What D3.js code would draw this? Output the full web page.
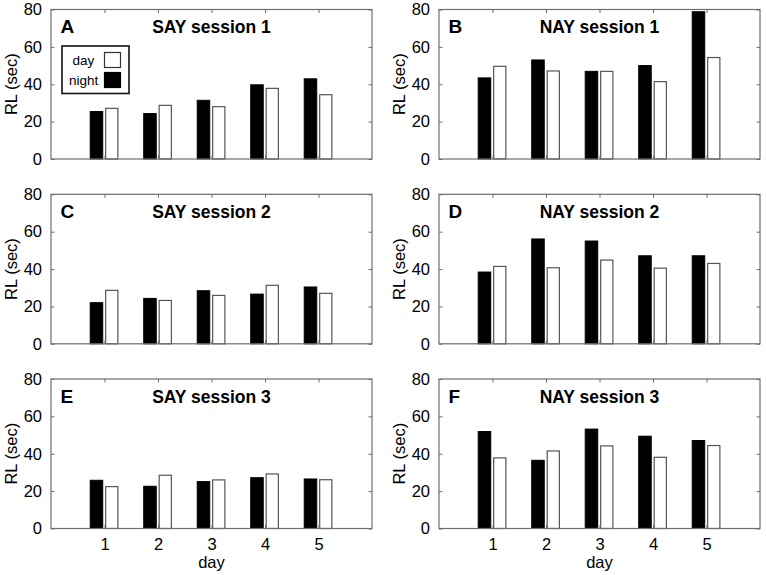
<!DOCTYPE html>
<html>
<head>
<meta charset="utf-8">
<script src="https://cdn.jsdelivr.net/npm/d3@7"></script>
<style>
  html, body { margin: 0; padding: 0; background: #fff; }
  svg { display: block; font-family: "Liberation Sans", Arial, sans-serif; }
</style>
</head>
<body>
<svg id="chart" width="766" height="575"></svg>
<script>
// ---- data ----
const days = [1, 2, 3, 4, 5];
const yTicks = [0, 20, 40, 60, 80];
const seriesNames = ["day", "night"];

const saySession1Night = [25.4, 24.3, 31.4, 39.7, 42.9];
const saySession1Day   = [27.1, 28.7, 28.0, 37.8, 34.4];
const naySession1Night = [43.4, 53.0, 46.9, 50.0, 78.8];
const naySession1Day   = [49.6, 47.1, 46.9, 41.4, 54.3];
const saySession2Night = [22.0, 24.3, 28.4, 26.6, 30.4];
const saySession2Day   = [28.6, 23.2, 25.9, 31.3, 27.0];
const naySession2Night = [38.4, 56.1, 55.0, 47.1, 47.1];
const naySession2Day   = [41.4, 40.7, 44.8, 40.5, 43.0];
const saySession3Night = [25.8, 22.6, 25.1, 27.2, 26.5];
const saySession3Day   = [22.4, 28.5, 26.0, 29.2, 26.1];
const naySession3Night = [51.9, 36.5, 53.2, 49.4, 47.1];
const naySession3Day   = [37.8, 41.5, 44.2, 38.1, 44.4];

const panelLetters = ["A", "B", "C", "D", "E", "F"];
const panelTitles = ["SAY session 1", "NAY session 1", "SAY session 2", "NAY session 2", "SAY session 3", "NAY session 3"];
const panelNight = [saySession1Night, naySession1Night, saySession2Night, naySession2Night, saySession3Night, naySession3Night];
const panelDay = [saySession1Day, naySession1Day, saySession2Day, naySession2Day, saySession3Day, naySession3Day];

// ---- layout ----
const colLeft = [51, 439];
const colWidth = 321;
const rowTop = [9.5, 194.3, 379];
const rowHeight = 149.5;
const axisColor = "#6e6e6e";

const svg = d3.select("#chart");

panelLetters.forEach((letter, i) => {
  const col = i % 2, row = Math.floor(i / 2);
  const x0 = colLeft[col], y0 = rowTop[row];
  const x = d3.scaleLinear().domain([0, 6]).range([x0, x0 + colWidth]);
  const y = d3.scaleLinear().domain([0, 80]).range([y0 + rowHeight, y0]);
  const g = svg.append("g");

  const night = panelNight[i], dayv = panelDay[i];

  // bars
  g.selectAll("rect.night").data(days).join("rect")
    .attr("class", "night")
    .attr("x", d => x(d - 0.267))
    .attr("width", d => x(d - 0.033) - x(d - 0.267))
    .attr("y", (d, j) => y(night[j]))
    .attr("height", (d, j) => y(0) - y(night[j]))
    .attr("fill", "#000").attr("stroke", "#000").attr("stroke-width", 1);

  g.selectAll("rect.day").data(days).join("rect")
    .attr("class", "day")
    .attr("x", d => x(d + 0.022))
    .attr("width", d => x(d + 0.25) - x(d + 0.022))
    .attr("y", (d, j) => y(dayv[j]))
    .attr("height", (d, j) => y(0) - y(dayv[j]))
    .attr("fill", "#fff").attr("stroke", "#555").attr("stroke-width", 1.2);

  // box
  g.append("rect")
    .attr("x", x(0)).attr("y", y(80))
    .attr("width", x(6) - x(0)).attr("height", y(0) - y(80))
    .attr("fill", "none").attr("stroke", axisColor).attr("stroke-width", 1.2);

  // left axis
  const left = g.append("g").attr("transform", `translate(${x(0)},0)`)
    .call(d3.axisLeft(y).tickValues(yTicks).tickSize(-3.5).tickPadding(9).tickFormat(d3.format("d")));
  left.select(".domain").remove();
  left.selectAll("line").attr("stroke", axisColor);
  left.selectAll("text").attr("fill", "#000").style("font-size", "16.5px")
    .style("font-family", "'Liberation Sans', Arial, sans-serif");

  // right axis ticks
  const right = g.append("g").attr("transform", `translate(${x(6)},0)`)
    .call(d3.axisRight(y).tickValues(yTicks).tickSize(-3.5).tickFormat(""));
  right.select(".domain").remove();
  right.selectAll("line").attr("stroke", axisColor);

  // bottom axis
  const bottom = g.append("g").attr("transform", `translate(0,${y(0)})`)
    .call(d3.axisBottom(x).tickValues(days).tickSize(-3.5).tickPadding(10)
      .tickFormat(row === 2 ? d3.format("d") : ""));
  bottom.select(".domain").remove();
  bottom.selectAll("line").attr("stroke", axisColor);
  bottom.selectAll("text").attr("fill", "#000").style("font-size", "16.5px")
    .style("font-family", "'Liberation Sans', Arial, sans-serif");

  // top ticks
  const top = g.append("g").attr("transform", `translate(0,${y(80)})`)
    .call(d3.axisTop(x).tickValues(days).tickSize(-3.5).tickFormat(""));
  top.select(".domain").remove();
  top.selectAll("line").attr("stroke", axisColor);

  // y label
  g.append("text")
    .attr("transform", `translate(${x0 - 34},${(y(0) + y(80)) / 2}) rotate(-90)`)
    .attr("text-anchor", "middle")
    .style("font-size", "16.5px")
    .text("RL (sec)");

  // letter
  g.append("text")
    .attr("x", x0 + 9.5).attr("y", y0 + 23.5)
    .style("font-size", "19px").style("font-weight", "bold")
    .text(letter);

  // title
  g.append("text")
    .attr("x", (x(0) + x(6)) / 2).attr("y", y0 + 23.5)
    .attr("text-anchor", "middle")
    .style("font-size", "17.5px").style("font-weight", "bold")
    .text(panelTitles[i]);

  // x label
  if (row === 2) {
    g.append("text")
      .attr("x", (x(0) + x(6)) / 2).attr("y", y(0) + 39)
      .attr("text-anchor", "middle")
      .style("font-size", "16.5px")
      .text("day");
  }

  // legend (panel A only)
  if (i === 0) {
    const lg = g.append("g");
    lg.append("rect")
      .attr("x", 62).attr("y", 46).attr("width", 67).attr("height", 47.5)
      .attr("fill", "#fff").attr("stroke", "#111").attr("stroke-width", 1.6);
    seriesNames.forEach((name, k) => {
      lg.append("text")
        .attr("x", k === 0 ? 72.5 : 69).attr("y", 64.5 + k * 20)
        .style("font-size", "13.5px")
        .text(name);
      lg.append("rect")
        .attr("x", 104.5).attr("y", 52.5 + k * 20).attr("width", 16).attr("height", 15)
        .attr("fill", k === 0 ? "#fff" : "#000")
        .attr("stroke", k === 0 ? "#333" : "#000").attr("stroke-width", 1.2);
    });
  }
});
</script>
</body>
</html>
